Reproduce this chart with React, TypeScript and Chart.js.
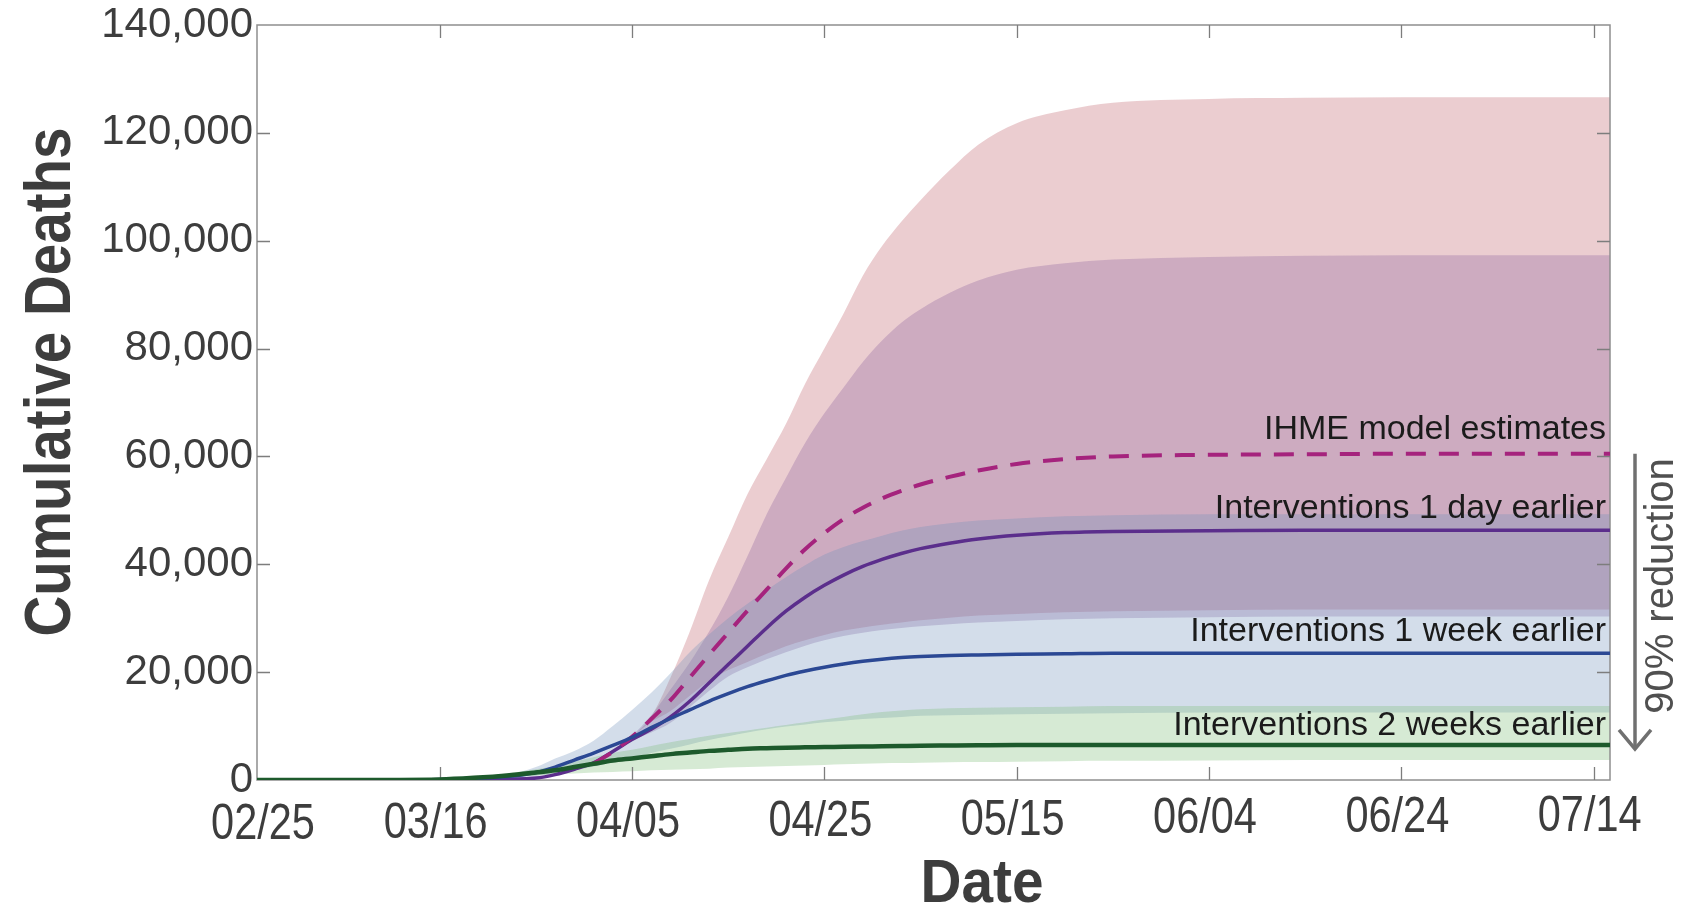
import React, { useEffect, useRef } from 'react';
import { Chart, registerables } from 'chart.js';

Chart.register(...registerables);

// x positions are days counted from 02/25
const days = [1, 10, 20, 24, 27, 30, 32, 34, 36, 38, 40, 42, 44, 46, 48, 50, 52, 54, 56, 58, 60, 62, 64, 66, 68, 70, 73, 76, 80, 85, 90, 100, 110, 120, 130, 141.7];

// values in thousands of deaths
const ihmeK = [null, null, null, null, null, null, null, null, 3.0, 5.2, 8.0, 11.3, 14.8, 19.0, 23.2, 27.3, 31.4, 35.3, 39.2, 42.8, 45.8, 48.4, 50.5, 52.2, 53.6, 54.8, 56.2, 57.4, 58.6, 59.5, 60.0, 60.3, 60.4, 60.5, 60.5, 60.5];
const ihmeUpperK = [null, null, null, null, null, null, null, null, 3.0, 5.2, 8.0, 11.8, 19.0, 27.5, 37.0, 45.0, 53.0, 59.5, 66.0, 73.5, 80.0, 86.5, 93.5, 99.0, 103.5, 107.5, 113.0, 117.8, 121.8, 124.2, 125.6, 126.3, 126.5, 126.6, 126.6, 126.6];
const ihmeLowerK = [null, null, null, null, null, null, null, null, 3.0, 5.2, 8.0, 10.8, 12.8, 15.6, 18.4, 20.4, 21.9, 23.4, 24.8, 25.9, 26.9, 27.7, 28.3, 28.8, 29.2, 29.6, 30.1, 30.5, 30.8, 31.1, 31.3, 31.5, 31.6, 31.6, 31.6, 31.6];

const oneDayK = [0, 0, 0.05, 0.1, 0.15, 0.35, 1.0, 2.0, 3.2, 5.3, 7.5, 9.4, 11.7, 14.6, 18.0, 21.4, 24.8, 28.2, 31.3, 33.9, 36.1, 38.0, 39.6, 40.9, 42.0, 42.9, 43.9, 44.7, 45.4, 45.9, 46.1, 46.2, 46.3, 46.3, 46.3, 46.3];
const oneDayUpperK = [null, null, null, null, null, null, null, null, 3.2, 5.3, 8.2, 12.0, 16.8, 21.8, 27.5, 34.0, 41.5, 49.3, 56.0, 62.5, 68.0, 72.8, 77.5, 81.5, 84.8, 87.3, 90.3, 92.6, 94.6, 95.8, 96.5, 97.0, 97.2, 97.3, 97.3, 97.3];
const oneDayLowerK = [null, null, null, null, null, null, null, null, 3.2, 5.3, 7.3, 8.8, 10.6, 13.5, 16.5, 19.2, 20.9, 22.4, 23.7, 24.9, 25.9, 26.7, 27.3, 27.8, 28.2, 28.5, 28.9, 29.2, 29.5, 29.8, 30.0, 30.2, 30.3, 30.3, 30.3, 30.3];

const oneWeekK = [0, 0, 0.1, 0.35, 0.65, 1.4, 2.4, 3.7, 5.0, 6.4, 7.9, 9.7, 11.4, 13.0, 14.6, 16.0, 17.3, 18.4, 19.4, 20.2, 20.9, 21.5, 22.0, 22.4, 22.7, 22.9, 23.1, 23.2, 23.3, 23.4, 23.5, 23.5, 23.5, 23.5, 23.5, 23.5];
const oneWeekUpperK = [0, 0, 0.1, 0.5, 1.0, 2.4, 4.0, 5.4, 7.3, 10.0, 13.0, 16.2, 19.8, 23.7, 27.0, 30.0, 32.7, 35.2, 37.6, 39.8, 41.8, 43.2, 44.3, 45.3, 46.2, 46.9, 47.6, 48.1, 48.5, 48.9, 49.1, 49.3, 49.3, 49.3, 49.3, 49.3];
const oneWeekLowerK = [0, 0, 0.05, 0.25, 0.4, 0.8, 1.2, 1.8, 2.5, 3.3, 4.1, 5.0, 5.8, 6.6, 7.4, 8.1, 8.8, 9.4, 9.9, 10.3, 10.7, 11.0, 11.3, 11.5, 11.7, 11.9, 12.0, 12.1, 12.2, 12.3, 12.4, 12.5, 12.5, 12.5, 12.5, 12.5];

const twoWeeksK = [0, 0, 0.1, 0.45, 0.85, 1.4, 1.8, 2.4, 3.0, 3.6, 4.0, 4.4, 4.8, 5.1, 5.4, 5.6, 5.8, 5.9, 6.0, 6.05, 6.1, 6.15, 6.2, 6.25, 6.3, 6.35, 6.4, 6.45, 6.5, 6.5, 6.5, 6.5, 6.5, 6.5, 6.5, 6.5];
const twoWeeksUpperK = [0, 0, 0.1, 0.6, 1.2, 2.0, 2.6, 3.4, 4.2, 5.0, 5.6, 6.3, 7.0, 7.6, 8.2, 8.7, 9.2, 9.7, 10.2, 10.7, 11.2, 11.7, 12.2, 12.6, 12.9, 13.1, 13.3, 13.4, 13.5, 13.6, 13.7, 13.7, 13.7, 13.7, 13.7, 13.7];
const twoWeeksLowerK = [0, 0, 0.05, 0.3, 0.5, 0.8, 1.0, 1.2, 1.4, 1.5, 1.6, 1.8, 1.9, 2.0, 2.1, 2.3, 2.4, 2.5, 2.6, 2.7, 2.8, 2.9, 3.0, 3.1, 3.15, 3.2, 3.3, 3.35, 3.4, 3.5, 3.55, 3.6, 3.7, 3.7, 3.7, 3.7];

const xTickDays = [1, 20, 40, 60, 80, 100, 120, 140];
const xTickLabels = ['02/25', '03/16', '04/05', '04/25', '05/15', '06/04', '06/24', '07/14'];
const yTickValues = [0, 20000, 40000, 60000, 80000, 100000, 120000, 140000];
const yTickLabels = ['0', '20,000', '40,000', '60,000', '80,000', '100,000', '120,000', '140,000'];

const seriesLabels = ['IHME model estimates', 'Interventions 1 day earlier', 'Interventions 1 week earlier', 'Interventions 2 weeks earlier'];

const toPoints = (vals: (number | null)[]) =>
  days.map((d, i) => ({ x: d, y: vals[i] === null ? null : (vals[i] as number) * 1000 }));

const REG = '"Liberation Sans", Arial, Helvetica, sans-serif';

const lineDs = (label: string, vals: (number | null)[], color: string, width: number, dash: number[] = []) => ({
  label,
  data: toPoints(vals),
  borderColor: color,
  borderWidth: width,
  borderDash: dash,
  pointRadius: 0,
  pointHoverRadius: 0,
  fill: false,
  cubicInterpolationMode: 'monotone' as const,
});

const bandDs = (label: string, vals: (number | null)[], fillColor: string | false) => ({
  label,
  data: toPoints(vals),
  borderColor: 'rgba(0,0,0,0)',
  borderWidth: 0,
  pointRadius: 0,
  pointHoverRadius: 0,
  backgroundColor: fillColor || 'rgba(0,0,0,0)',
  fill: fillColor ? '+1' : false,
  cubicInterpolationMode: 'monotone' as const,
});

// draw text squeezed along its baseline (condensed face look)
const condensedText = (ctx: CanvasRenderingContext2D, text: string, x: number, y: number, squeeze: number) => {
  ctx.save();
  ctx.translate(x, y);
  ctx.scale(squeeze, 1);
  ctx.fillText(text, 0, 0);
  ctx.restore();
};

const decorPlugin = {
  id: 'decor',
  beforeDatasetsDraw(chart: any) {
    const { ctx, chartArea: a, scales } = chart;
    ctx.save();
    ctx.strokeStyle = '#8f8f8f';
    ctx.lineWidth = 1.5;
    ctx.strokeRect(a.left, a.top, a.right - a.left, a.bottom - a.top);
    ctx.strokeStyle = '#7d7d7d';
    ctx.lineWidth = 1.3;
    const tl = 13;
    ctx.beginPath();
    scales.x.ticks.forEach((t: any) => {
      const px = Math.round(scales.x.getPixelForValue(t.value)) + 0.5;
      if (px <= a.left + 2 || px >= a.right - 2) return;
      ctx.moveTo(px, a.bottom);
      ctx.lineTo(px, a.bottom - tl);
      ctx.moveTo(px, a.top);
      ctx.lineTo(px, a.top + tl);
    });
    scales.y.ticks.forEach((t: any) => {
      const py = Math.round(scales.y.getPixelForValue(t.value)) + 0.5;
      if (py <= a.top + 2 || py >= a.bottom - 2) return;
      ctx.moveTo(a.left, py);
      ctx.lineTo(a.left + tl, py);
      ctx.moveTo(a.right, py);
      ctx.lineTo(a.right - tl, py);
    });
    ctx.stroke();
    ctx.restore();
  },
  afterDraw(chart: any) {
    const { ctx, chartArea: a, scales } = chart;
    const y = scales.y;
    const x = scales.x;
    ctx.save();

    // x tick labels (condensed face)
    ctx.fillStyle = '#3d3d3d';
    ctx.font = `50px ${REG}`;
    ctx.textAlign = 'center';
    ctx.textBaseline = 'alphabetic';
    x.ticks.forEach((t: any, i: number) => {
      const px = x.getPixelForValue(t.value);
      const drift = ((px - a.left) / (a.right - a.left)) * 8;
      condensedText(ctx, xTickLabels[i], px + (i === 0 ? 6 : -4), 839 - drift, 0.83);
    });

    // axis titles
    ctx.font = `bold 61px ${REG}`;
    condensedText(ctx, 'Date', 982, 902, 0.93);
    ctx.save();
    ctx.translate(70, 382);
    ctx.rotate(-Math.PI / 2);
    ctx.font = `bold 65px ${REG}`;
    condensedText(ctx, 'Cumulative Deaths', 0, 0, 0.87);
    ctx.restore();

    // series labels
    ctx.fillStyle = '#1b1b1b';
    ctx.font = `34px ${REG}`;
    ctx.textAlign = 'right';
    const ends = [ihmeK, oneDayK, oneWeekK, twoWeeksK].map((s) => (s[s.length - 1] as number) * 1000);
    const offs = [15, 12, 12, 10];
    seriesLabels.forEach((lab, i) => {
      ctx.fillText(lab, a.right - 4, y.getPixelForValue(ends[i]) - offs[i]);
    });

    // reduction arrow
    const ax = 1635;
    const top = y.getPixelForValue(ends[0]);
    const bot = y.getPixelForValue(ends[3]) + 4;
    ctx.strokeStyle = '#707070';
    ctx.lineWidth = 3.5;
    ctx.lineCap = 'butt';
    ctx.beginPath();
    ctx.moveTo(ax, top);
    ctx.lineTo(ax, bot);
    ctx.stroke();
    ctx.beginPath();
    ctx.moveTo(ax - 16, bot - 19);
    ctx.lineTo(ax, bot);
    ctx.lineTo(ax + 16, bot - 19);
    ctx.stroke();

    ctx.save();
    ctx.translate(1673, 586);
    ctx.rotate(-Math.PI / 2);
    ctx.fillStyle = '#505050';
    ctx.font = `40px ${REG}`;
    ctx.textAlign = 'center';
    ctx.textBaseline = 'alphabetic';
    ctx.fillText('90% reduction', 0, 0);
    ctx.restore();
    ctx.restore();
  },
};

export default function App() {
  const ref = useRef<HTMLCanvasElement>(null);
  useEffect(() => {
    if (!ref.current) return;
    const chart = new Chart(ref.current, {
      type: 'line',
      data: {
        datasets: [
          lineDs(seriesLabels[3], twoWeeksK, '#1d5a2c', 4.5),
          lineDs(seriesLabels[2], oneWeekK, '#2b4894', 3.5),
          lineDs(seriesLabels[0], ihmeK, '#a5237d', 4, [20, 13]),
          lineDs(seriesLabels[1], oneDayK, '#5b2e8c', 3.5),
          bandDs('2w upper', twoWeeksUpperK, 'rgba(118,185,112,0.3)'),
          bandDs('2w lower', twoWeeksLowerK, false),
          bandDs('1w upper', oneWeekUpperK, 'rgba(108,144,185,0.3)'),
          bandDs('1w lower', oneWeekLowerK, false),
          bandDs('1d upper', oneDayUpperK, 'rgba(135,92,155,0.3)'),
          bandDs('1d lower', oneDayLowerK, false),
          bandDs('ihme upper', ihmeUpperK, 'rgba(188,88,98,0.3)'),
          bandDs('ihme lower', ihmeLowerK, false),
        ] as any,
      },
      options: {
        responsive: false,
        animation: false,
        events: [],
        layout: { padding: { left: 0, right: 84, top: 22, bottom: 0 } },
        plugins: {
          legend: { display: false },
          tooltip: { enabled: false },
          filler: { drawTime: 'beforeDatasetsDraw', propagate: false },
        },
        scales: {
          x: {
            type: 'linear',
            min: 1,
            max: 141.7,
            grid: { display: false, drawTicks: false },
            border: { display: false },
            afterBuildTicks: (s: any) => {
              s.ticks = xTickDays.map((v) => ({ value: v }));
            },
            afterFit: (s: any) => {
              s.height = 125;
            },
            ticks: {
              display: false,
              autoSkip: false,
              maxRotation: 0,
              callback: (_v: any, i: number) => xTickLabels[i],
            },
          },
          y: {
            type: 'linear',
            min: 0,
            max: 140000,
            grid: { display: false, drawTicks: false },
            border: { display: false },
            afterBuildTicks: (s: any) => {
              s.ticks = yTickValues.map((v) => ({ value: v }));
            },
            afterFit: (s: any) => {
              s.width = 257;
            },
            ticks: {
              padding: 4,
              color: '#3d3d3d',
              font: { family: REG, size: 42, lineHeight: 1 },
              callback: (_v: any, i: number) => yTickLabels[i],
            },
          },
        },
      } as any,
      plugins: [decorPlugin],
    });
    return () => chart.destroy();
  }, []);
  return (
    <div style={{ position: 'fixed', left: 0, top: 0, width: 1694, height: 905, background: '#fff' }}>
      <canvas ref={ref} width={1694} height={905} style={{ width: '1694px', height: '905px', display: 'block' }} />
    </div>
  );
}
